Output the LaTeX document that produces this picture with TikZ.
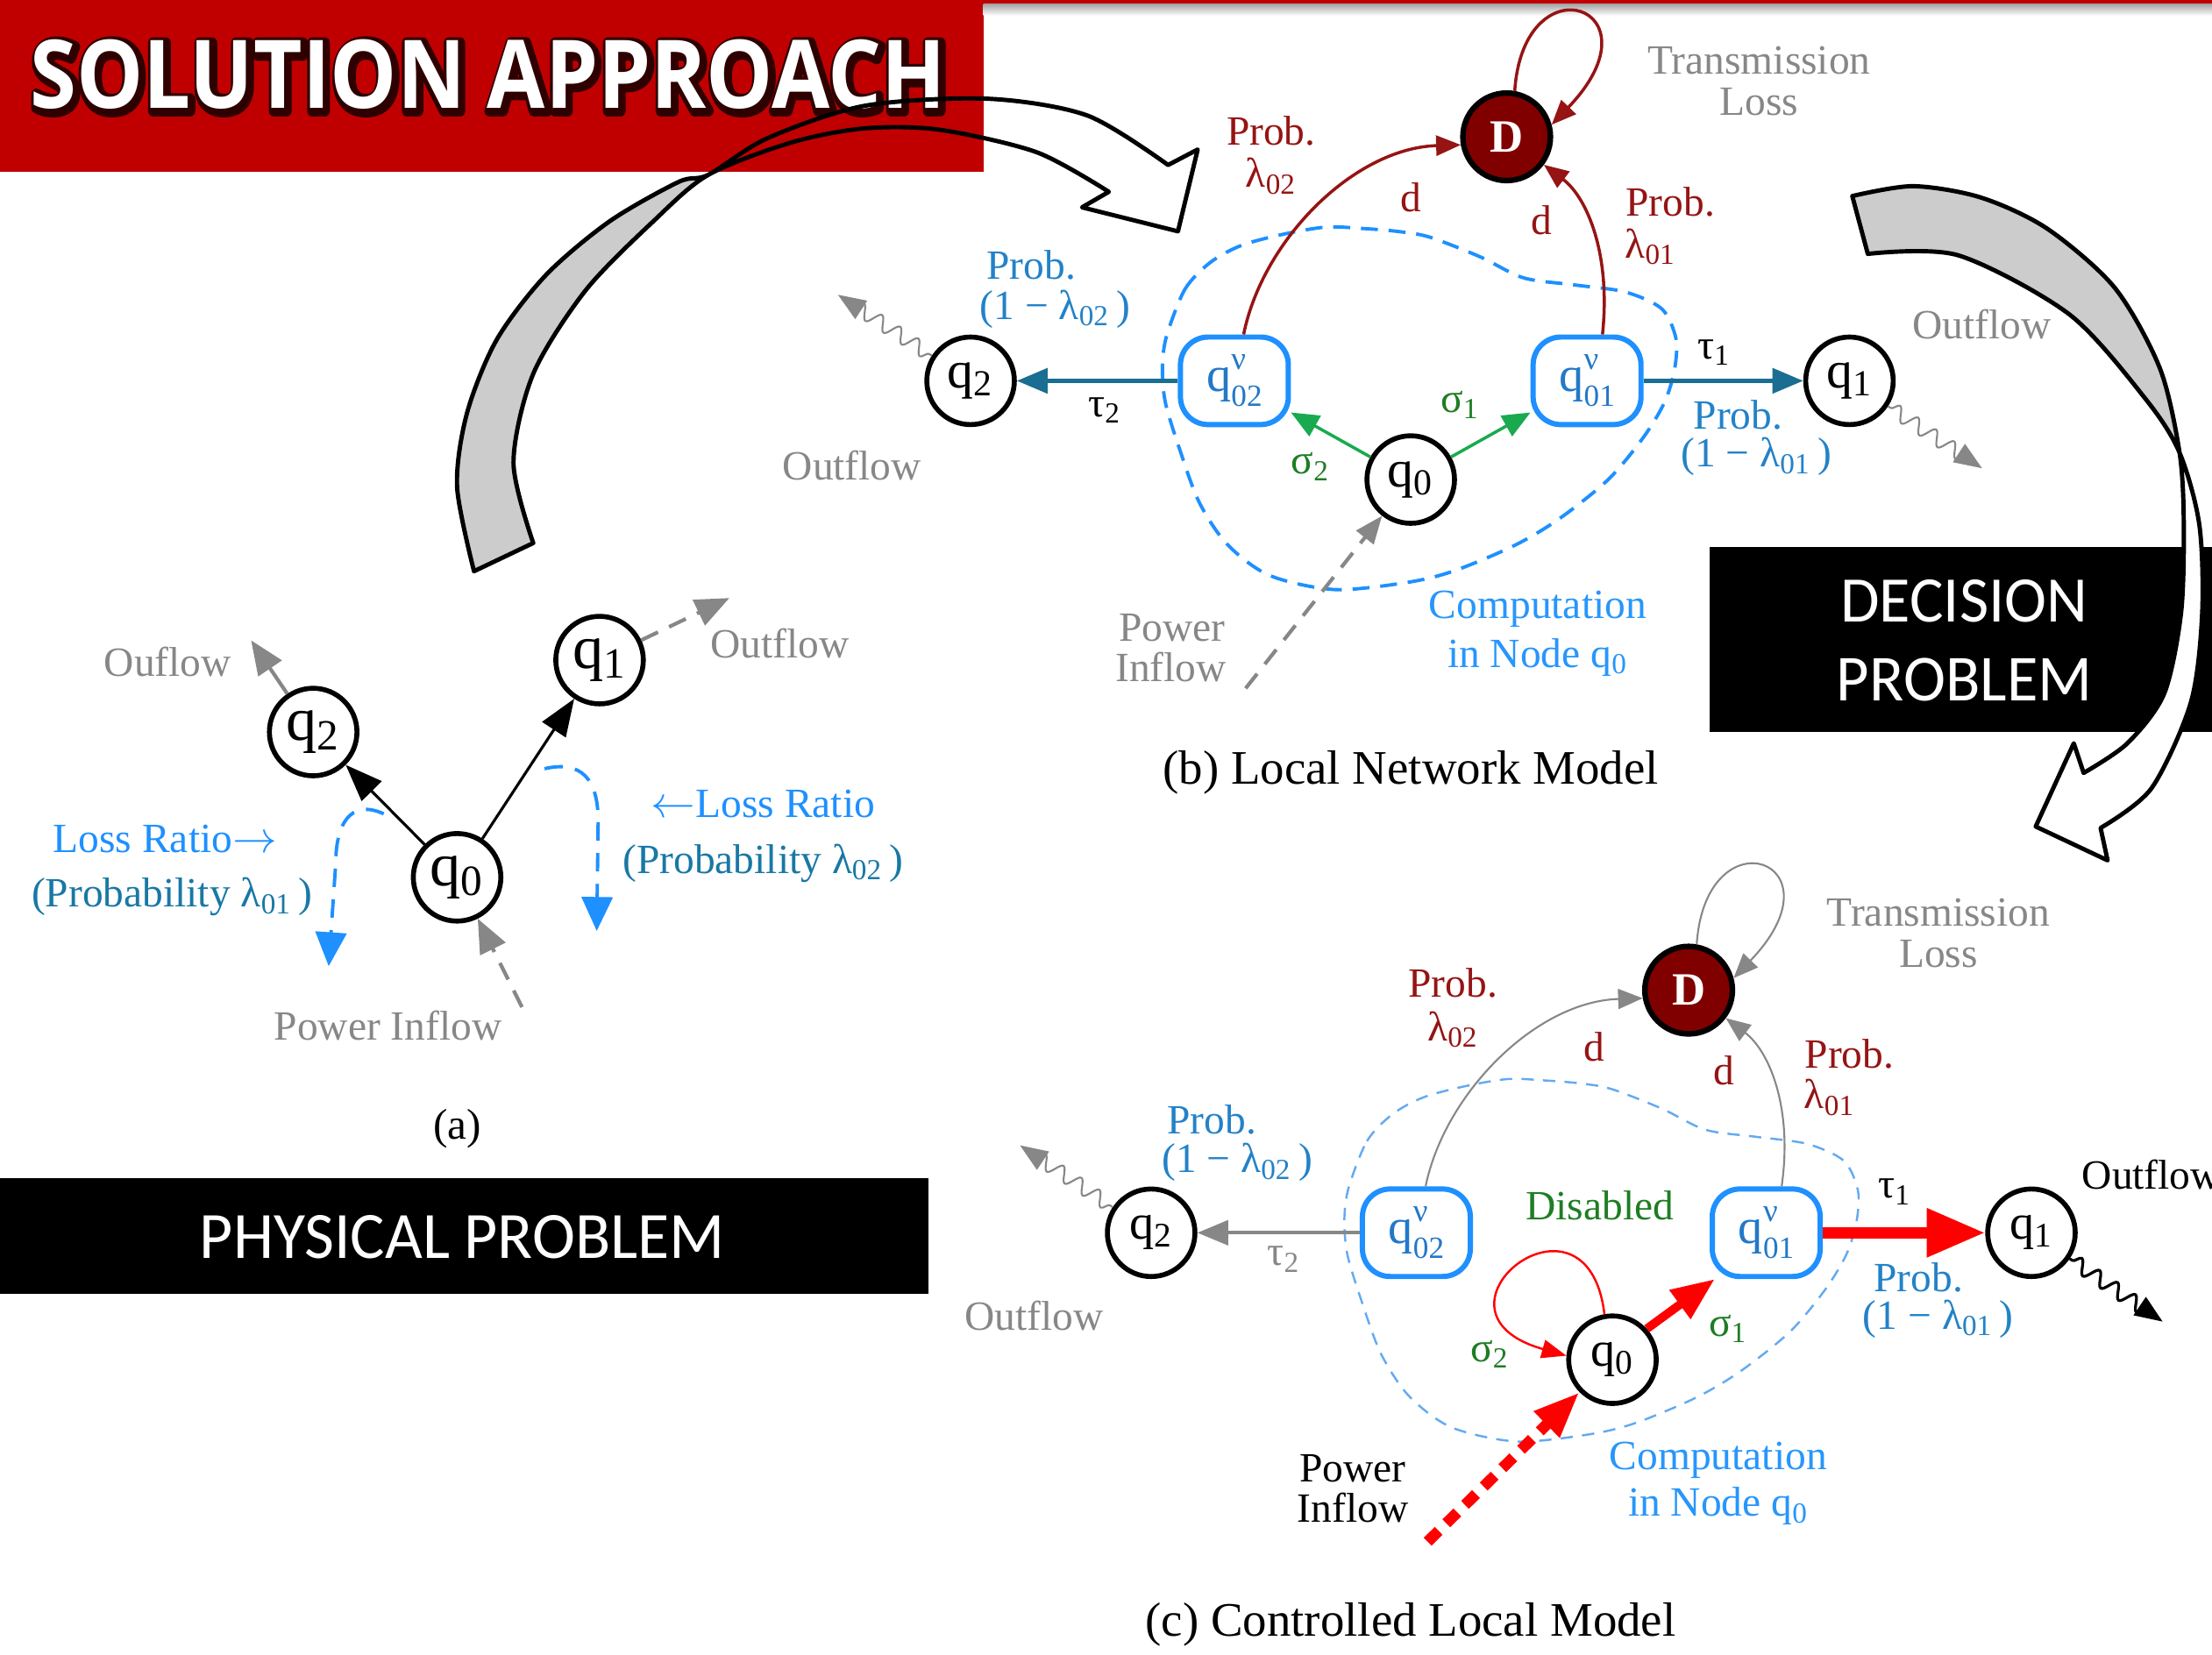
\documentclass[tikz,border=0pt]{standalone}
\usepackage{fontspec}
\setmainfont{Liberation Serif}
\newfontfamily\hdfont{Open Sans}
\newfontfamily\bxfont{Carlito}
\usetikzlibrary{arrows.meta,decorations.pathmorphing}
\definecolor{hdred}{RGB}{192,0,0}
\definecolor{glowc}{RGB}{45,0,0}
\definecolor{ddred}{RGB}{128,0,0}
\definecolor{ered}{RGB}{150,20,20}
\definecolor{tealx}{RGB}{25,110,145}
\definecolor{nblue}{RGB}{30,144,255}
\definecolor{vtxt}{RGB}{35,120,200}
\definecolor{pblue}{RGB}{35,130,200}
\definecolor{cblue}{RGB}{40,150,250}
\definecolor{ablue}{RGB}{25,120,165}
\definecolor{egreen}{RGB}{25,170,80}
\definecolor{lgreen}{RGB}{30,125,35}
\definecolor{gtxt}{RGB}{135,135,135}
\definecolor{garr}{RGB}{135,135,135}
\definecolor{rred}{RGB}{255,0,0}
\definecolor{cblue2}{RGB}{100,170,240}
\definecolor{arrgray}{RGB}{204,204,204}
\newcommand\lab{\fontsize{13.5}{15}\selectfont}
\newcommand\capf{\fontsize{15.6}{17}\selectfont}
\newcommand\hdtext{\resizebox{10.44cm}{0.784cm}{\hdfont\bfseries SOLUTION APPROACH}}
\newcommand\hdglow{\resizebox{10.44cm}{0.784cm}{\hdfont\bfseries\special{pdf:literal direct 0.18 0 0 RG 1.2 w 1 j 2 Tr}SOLUTION APPROACH\special{pdf:literal direct 0 Tr}}}
\newcommand\qv[1]{q\rlap{\raisebox{0.45em}{\fontsize{10.5}{10.5}\selectfont ν}}\raisebox{-0.3em}{\fontsize{10}{10}\selectfont #1}}
\begin{document}
\begin{tikzpicture}[x=0.01609cm,y=-0.01609cm,
  lab/.style={font=\lab, inner sep=0pt},
  captxt/.style={font=\capf, inner sep=0pt},
  qn/.style={circle, draw=black, line width=1.6pt, minimum size=28.4pt, inner sep=0pt, fill=white},
  qa/.style={qn, font=\fontsize{20}{20}\selectfont},
  qb/.style={qn, font=\fontsize{17}{17}\selectfont},
  qc/.style={qn, font=\fontsize{16}{16}\selectfont},
  vbox/.style={draw=nblue, line width=1.7pt, rounded corners=9pt, minimum width=35pt, minimum height=28.4pt, inner sep=0pt, text=vtxt, font=\fontsize{16}{16}\selectfont, fill=white},
  dnode/.style={circle, draw=black, line width=1.8pt, fill=ddred, minimum size=28.4pt, inner sep=0pt, text=white, font=\fontsize{15}{15}\selectfont\bfseries},
  wavy/.style={decorate, decoration={snake, amplitude=2.3pt, segment length=7pt, pre length=1pt, post length=6pt}},
  gdash/.style={garr, line width=1.2pt, dash pattern=on 6pt off 4pt},
  bline/.style={black, line width=1.4pt, line join=round},
  contb/.style={nblue, line width=1.1pt, dash pattern=on 5.5pt off 3.5pt},
  contc/.style={cblue2, line width=0.7pt, dash pattern=on 4pt off 3pt}
]
\useasboundingbox (0,0) rectangle (1568,1173);

% ---------------- header
\fill[hdred] (0,0) rectangle (697,122);
\fill[hdred] (697,0) rectangle (1568,3);
\shade[top color=black!35, bottom color=white] (697,3) rectangle (1568,11);
\node[text=glowc, inner sep=0pt] (hglow) at (347.5,54.5) {\hdglow};
\node[text=white, inner sep=0pt] (htitle) at (346,53) {\hdtext};

% ---------------- panel (a)
\node[qa] (q2a) at (222,519) {q\textsubscript{2}};
\node[qa] (q1a) at (425,468) {q\textsubscript{1}};
\node[qa] (q0a) at (324,622) {q\textsubscript{0}};
\draw[black, line width=0.9pt, -{Triangle[length=12pt,width=9pt]}] (q0a) -- (q2a);
\draw[black, line width=0.9pt, -{Triangle[length=12pt,width=9pt]}] (q0a) -- (q1a);
\coordinate (a2o) at (178,454);
\coordinate (a1o) at (517,424);
\coordinate (ain) at (370,714);
\draw[garr, line width=1.2pt, -{Triangle[length=11pt,width=9pt]}] (q2a) -- (a2o);
\draw[gdash, -{Triangle[length=11pt,width=9pt]}] (q1a) -- (a1o);
\draw[gdash, -{Triangle[length=11pt,width=9pt]}] (ain) -- (q0a);
\coordinate (lra) at (272,577);
\coordinate (lrb) at (233,685);
\coordinate (lrc) at (386,545);
\coordinate (lrd) at (423,660);
\draw[nblue, line width=1.1pt, dash pattern=on 6pt off 4pt, -{Triangle[length=11pt,width=10pt]}]
  (lra) .. controls (248,566) and (238,585) .. (238,612) -- (lrb);
\draw[nblue, line width=1.1pt, dash pattern=on 6pt off 4pt, -{Triangle[length=11pt,width=10pt]}]
  (lrc) .. controls (412,539) and (424,552) .. (424,582) -- (lrd);
\node[lab, text=nblue] (lrt1) at (117,595) {Loss Ratio$\rightarrow$};
\node[lab, text=ablue] (prt1) at (122,636) {(Probability λ\textsubscript{01}\,)};
\node[lab, text=nblue] (lrt2) at (541,570) {$\leftarrow$Loss Ratio};
\node[lab, text=ablue] (prt2) at (541,612) {(Probability λ\textsubscript{02}\,)};
\node[lab, text=gtxt] (ofa2) at (119,469) {Ouflow};
\node[lab, text=gtxt] (ofa1) at (553,456) {Outflow};
\node[lab, text=gtxt] (pia) at (275,727) {Power Inflow};
\node[lab, font=\fontsize{14}{15}\selectfont] (capa) at (324,800) {(a)};

% ---------------- panel (b)
\draw[contb] plot[smooth cycle] coordinates {(827,238) (840,205) (858,186) (880,174) (910,166) (940,161) (966,162) (990,164) (1013,168) (1049,182) (1080,197) (1116,202) (1152,207) (1178,219) (1188,240) (1187,262) (1180,285) (1165,310) (1140,340) (1105,368) (1073,387) (1030,405) (997,413) (946,418) (900,408) (870,386) (850,356) (836,318) (826,285) (824,260)};
\node[dnode] (Db) at (1068,97) {D};
\node[vbox] (q02vb) at (875,270) {\qv{02}};
\node[vbox] (q01vb) at (1125,270) {\qv{01}};
\node[qb] (q2b) at (688,270) {q\textsubscript{2}};
\node[qb] (q1b) at (1311,270) {q\textsubscript{1}};
\node[qb] (q0b) at (1000,340) {q\textsubscript{0}};
\draw[ered, line width=1pt, -{Triangle[length=8pt,width=6.5pt]}] (Db.80) .. controls (1080,-30) and (1180,5) .. (Db.15);
\draw[ered, line width=1pt, -{Triangle[length=8pt,width=6.5pt]}] ([xshift=3pt]q02vb.north) .. controls (895,170) and (960,105) .. (Db.190);
\draw[ered, line width=1pt, -{Triangle[length=8pt,width=6.5pt]}] ([xshift=5pt]q01vb.north) .. controls (1142,180) and (1125,140) .. (Db.-37);
\draw[tealx, line width=1.5pt, -{Triangle[length=10pt,width=8pt]}] (q02vb) -- (q2b);
\draw[tealx, line width=1.5pt, -{Triangle[length=10pt,width=8pt]}] (q01vb) -- (q1b);
\draw[egreen, line width=1pt, -{Triangle[length=9pt,width=7.5pt]}] (q0b) -- (q02vb);
\draw[egreen, line width=1pt, -{Triangle[length=9pt,width=7.5pt]}] (q0b) -- (q01vb);
\coordinate (pinb) at (883,488);
\draw[gdash, -{Triangle[length=9pt,width=7pt]}] (pinb) -- (q0b);
\coordinate (o2b) at (594,209);
\coordinate (o1b) at (1405,332);
\draw[garr, line width=0.6pt, wavy, -{Triangle[length=9pt,width=7pt]}] (q2b) -- (o2b);
\draw[garr, line width=0.6pt, wavy, -{Triangle[length=9pt,width=7pt]}] (q1b) -- (o1b);
\node[lab, text=ered] (pb1) at (901,93) {Prob.};
\node[lab, text=ered] (lb1) at (901,125) {λ\textsubscript{02}};
\node[lab, text=ered] (db1) at (1000,140) {d};
\node[lab, text=ered] (db2) at (1093,156) {d};
\node[lab, text=ered] (pb2) at (1184,143) {Prob.};
\node[lab, text=ered] (lb2) at (1170,175) {λ\textsubscript{01}};
\node[lab, text=gtxt] (tlb1) at (1247,43) {Transmission};
\node[lab, text=gtxt] (tlb2) at (1247,72) {Loss};
\node[lab, text=pblue] (pb3) at (731,188) {Prob.};
\node[lab, text=pblue] (pb4) at (748,219) {(1 − λ\textsubscript{02}\,)};
\node[lab] (tb2) at (783,291) {τ\textsubscript{2}};
\node[lab] (tb1) at (1215,250) {τ\textsubscript{1}};
\node[lab, text=pblue] (pb5) at (1232,294) {Prob.};
\node[lab, text=pblue] (pb6) at (1245,324) {(1 − λ\textsubscript{01}\,)};
\node[lab, text=gtxt] (ofb1) at (1405,230) {Outflow};
\node[lab, text=gtxt] (ofb2) at (604,330) {Outflow};
\node[lab, text=lgreen] (sb1) at (1035,287) {σ\textsubscript{1}};
\node[lab, text=lgreen] (sb2) at (929,331) {σ\textsubscript{2}};
\node[lab, text=gtxt] (pwb1) at (831,445) {Power};
\node[lab, text=gtxt] (pwb2) at (830,473) {Inflow};
\node[lab, text=cblue] (cmb1) at (1090,432) {Computation};
\node[lab, text=cblue] (cmb2) at (1090,466) {in Node q\textsubscript{0}};
\node[captxt] (capb) at (1000,548) {(b) Local Network Model};

% ---------------- panel (c)
\begin{scope}[shift={(129,604)}]
\draw[contc] plot[smooth cycle] coordinates {(827,238) (840,205) (858,186) (880,174) (910,166) (940,161) (966,162) (990,164) (1013,168) (1049,182) (1080,197) (1116,202) (1152,207) (1178,219) (1188,240) (1187,262) (1180,285) (1165,310) (1140,340) (1105,368) (1073,387) (1030,405) (997,413) (946,418) (900,408) (870,386) (850,356) (836,318) (826,285) (824,260)};
\end{scope}
\node[dnode] (Dc) at (1197,702) {D};
\node[vbox] (q02vc) at (1004,874) {\qv{02}};
\node[vbox] (q01vc) at (1252,874) {\qv{01}};
\node[qc] (q2c) at (816,874) {q\textsubscript{2}};
\node[qc] (q1c) at (1440,874) {q\textsubscript{1}};
\node[qc] (q0c) at (1143,964) {q\textsubscript{0}};
\draw[garr, line width=0.6pt, -{Triangle[length=8pt,width=6.5pt]}] (Dc.80) .. controls (1209,575) and (1309,610) .. (Dc.15);
\draw[garr, line width=0.6pt, -{Triangle[length=8pt,width=6.5pt]}] ([xshift=3pt]q02vc.north) .. controls (1024,775) and (1089,710) .. (Dc.190);
\draw[garr, line width=0.6pt, -{Triangle[length=8pt,width=6.5pt]}] ([xshift=5pt]q01vc.north) .. controls (1271,785) and (1254,745) .. (Dc.-37);
\draw[garr, line width=1.1pt, -{Triangle[length=10pt,width=8pt]}] (q02vc) -- (q2c);
\draw[rred, line width=3.8pt, -{Triangle[length=19pt,width=15pt]}] (q01vc) -- (q1c);
\draw[rred, line width=2.8pt, -{Triangle[length=14pt,width=11pt]}] (q0c.42) -- (q01vc.222);
\draw[rred, line width=0.7pt, -{Triangle[length=8pt,width=6pt]}] (q0c.100) .. controls (1125,830) and (1000,930) .. (q0c.175);
\coordinate (pinc) at (1012,1093);
\draw[rred, line width=3.6pt, dash pattern=on 5pt off 3.5pt, -{Triangle[length=15pt,width=11pt]}] (pinc) -- (q0c);
\coordinate (o2c) at (723,812);
\coordinate (o1c) at (1533,937);
\draw[garr, line width=0.6pt, wavy, -{Triangle[length=9pt,width=7pt]}] (q2c) -- (o2c);
\draw[black, line width=0.9pt, wavy, -{Triangle[length=9pt,width=7pt]}] (q1c) -- (o1c);
\node[lab, text=ered] (pc1) at (1030,697) {Prob.};
\node[lab, text=ered] (lc1) at (1030,730) {λ\textsubscript{02}};
\node[lab, text=gtxt] (tlc1) at (1374,647) {Transmission};
\node[lab, text=gtxt] (tlc2) at (1374,676) {Loss};
\node[lab, text=ered] (dc1) at (1130,742) {d};
\node[lab, text=ered] (dc2) at (1222,759) {d};
\node[lab, text=ered] (pc2) at (1311,747) {Prob.};
\node[lab, text=ered] (lc2) at (1297,778) {λ\textsubscript{01}};
\node[lab, text=pblue] (pc3) at (859,794) {Prob.};
\node[lab, text=pblue] (pc4) at (877,824) {(1 − λ\textsubscript{02}\,)};
\node[lab, text=gtxt] (tc2) at (910,893) {τ\textsubscript{2}};
\node[lab, text=gtxt] (ofc2) at (733,933) {Outflow};
\node[lab, text=lgreen] (dis) at (1134,855) {Disabled};
\node[lab] (tc1) at (1343,845) {τ\textsubscript{1}};
\node[lab, text=pblue] (pc5) at (1360,906) {Prob.};
\node[lab, text=pblue] (pc6) at (1374,935) {(1 − λ\textsubscript{01}\,)};
\node[lab] (ofc1) at (1525,833) {Outflow};
\node[lab, text=lgreen] (sc2) at (1056,960) {σ\textsubscript{2}};
\node[lab, text=lgreen] (sc1) at (1225,942) {σ\textsubscript{1}};
\node[lab] (pwc1) at (959,1041) {Power};
\node[lab] (pwc2) at (959,1069) {Inflow};
\node[lab, text=cblue] (cmc1) at (1218,1035) {Computation};
\node[lab, text=cblue] (cmc2) at (1218,1068) {in Node q\textsubscript{0}};
\node[captxt] (capc) at (1000,1152) {(c) Controlled Local Model};

% ---------------- black boxes
\fill[black] (0,835) rectangle (658,917);
\node[text=white, inner sep=0pt] (phys) at (327.7,877.3) {\resizebox{5.985cm}{0.49cm}{\bxfont PHYSICAL PROBLEM}};
\fill[black] (1212,388) rectangle (1568,519);
\node[text=white, inner sep=0pt] (dec1) at (1392.2,426.4) {\resizebox{2.819cm}{0.481cm}{\bxfont DECISION}};
\node[text=white, inner sep=0pt] (dec2) at (1392.5,482) {\resizebox{2.912cm}{0.486cm}{\bxfont PROBLEM}};

% ---------------- big arrow A
\fill[arrgray] plot[smooth] coordinates {(502,124) (463,157) (415,206) (378,265) (364,328) (378,385)} -- (336,405) -- plot[smooth] coordinates {(336,405) (324,345) (331,293) (352,241) (387,195) (432,157) (481,129) (502,124)} -- cycle;
\draw[bline] plot[smooth] coordinates {(336,405) (324,345) (331,293) (352,241) (387,195) (432,157) (481,129) (502,124) (544,98) (613,75) (700,70) (771,82) (828,117)} -- (849,106) -- (835,164) -- (767,147) -- (786,136) -- plot[smooth] coordinates {(786,136) (735,108) (666,92) (613,91) (561,101) (502,124) (463,157) (415,206) (378,265) (364,328) (378,385)} -- cycle;

% ---------------- big arrow B
\fill[arrgray] plot[smooth] coordinates {(1313,139) (1356,132) (1404,140) (1451,162) (1499,204) (1531,261) (1545,321)} -- plot[smooth] coordinates {(1545,321) (1521,283) (1467,223) (1388,181) (1324,180)} -- cycle;
\fill[white] plot[smooth] coordinates {(1545,321) (1548,372) (1546,435) (1534,492) (1508,527) (1477,548)} -- (1470,527) -- (1443,586) -- (1494,610) -- (1489,587) -- plot[smooth] coordinates {(1489,587) (1525,559) (1553,498) (1561,435) (1559,372) (1545,321)} -- cycle;
\draw[bline] plot[smooth] coordinates {(1313,139) (1356,132) (1404,140) (1451,162) (1499,204) (1531,261) (1545,321) (1548,372) (1546,435) (1534,492) (1508,527) (1477,548)} -- (1470,527) -- (1443,586) -- (1494,610) -- (1489,587) -- plot[smooth] coordinates {(1489,587) (1525,559) (1553,498) (1561,435) (1559,372) (1545,321) (1521,283) (1467,223) (1388,181) (1324,180)} -- cycle;
\end{tikzpicture}
\end{document}
